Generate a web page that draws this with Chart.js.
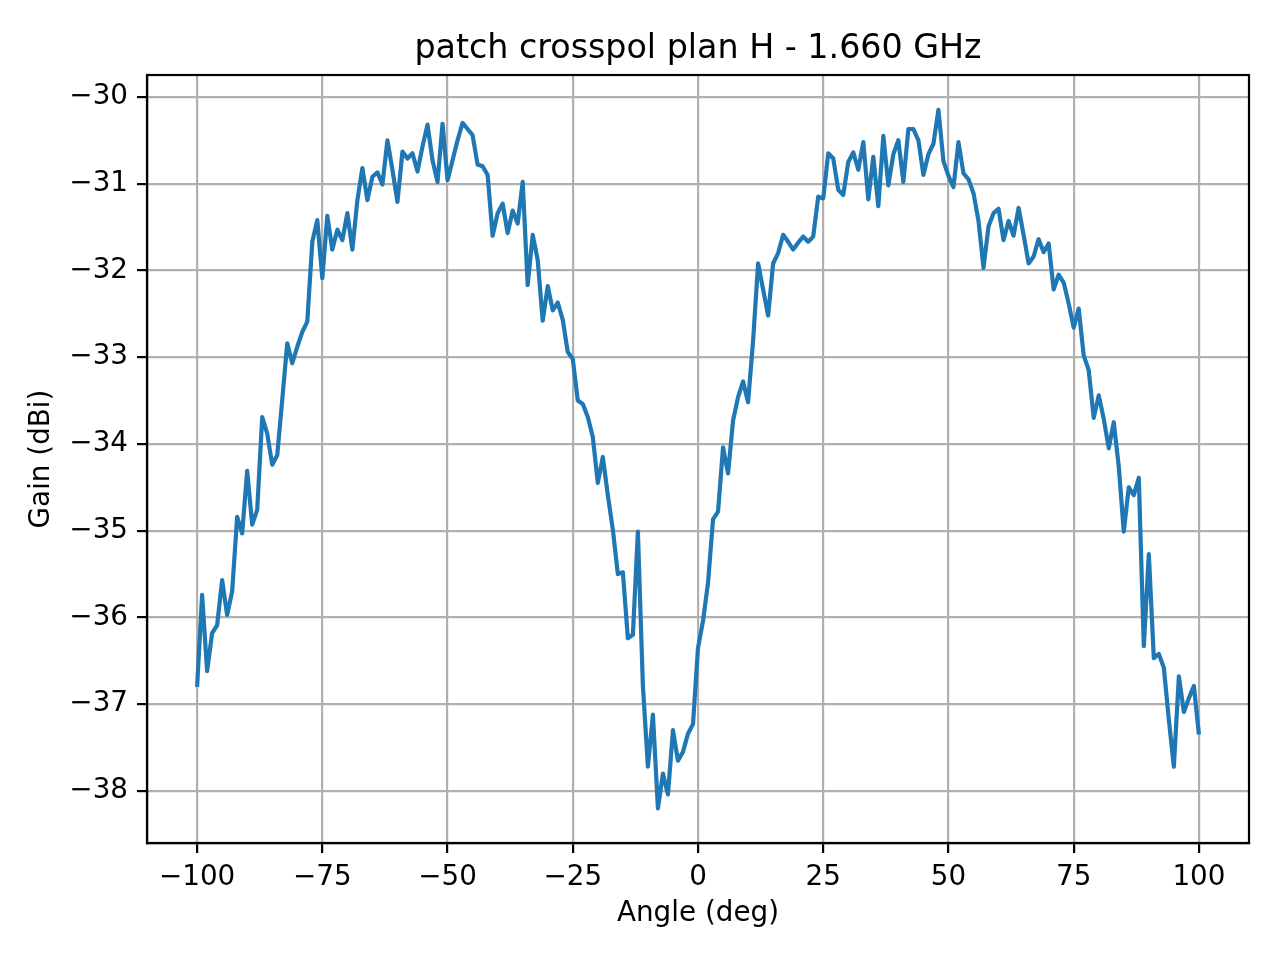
<!DOCTYPE html>
<html>
<head>
<meta charset="utf-8">
<title>patch crosspol plan H - 1.660 GHz</title>
<script src="https://cdn.jsdelivr.net/npm/chart.js@4.4.1/dist/chart.umd.min.js"></script>
<style>
  html, body { margin: 0; padding: 0; background: #fff; }
  #chart { display: block; }
</style>
</head>
<body>
<canvas id="chart" width="1280" height="960"></canvas>
<script>
const chartTitle = "patch crosspol plan H - 1.660 GHz";
const xTitle = "Angle (deg)";
const yTitle = "Gain (dBi)";

const angles = [
  -100, -99, -98, -97, -96, -95, -94, -93, -92, -91, -90, -89, -88, -87, -86, -85, -84, -83, -82, -81,
  -80, -79, -78, -77, -76, -75, -74, -73, -72, -71, -70, -69, -68, -67, -66, -65, -64, -63, -62, -61,
  -60, -59, -58, -57, -56, -55, -54, -53, -52, -51, -50, -49, -48, -47, -46, -45, -44, -43, -42, -41,
  -40, -39, -38, -37, -36, -35, -34, -33, -32, -31, -30, -29, -28, -27, -26, -25, -24, -23, -22, -21,
  -20, -19, -18, -17, -16, -15, -14, -13, -12, -11, -10, -9, -8, -7, -6, -5, -4, -3, -2, -1,
  0, 1, 2, 3, 4, 5, 6, 7, 8, 9, 10, 11, 12, 13, 14, 15, 16, 17, 18, 19,
  20, 21, 22, 23, 24, 25, 26, 27, 28, 29, 30, 31, 32, 33, 34, 35, 36, 37, 38, 39,
  40, 41, 42, 43, 44, 45, 46, 47, 48, 49, 50, 51, 52, 53, 54, 55, 56, 57, 58, 59,
  60, 61, 62, 63, 64, 65, 66, 67, 68, 69, 70, 71, 72, 73, 74, 75, 76, 77, 78, 79,
  80, 81, 82, 83, 84, 85, 86, 87, 88, 89, 90, 91, 92, 93, 94, 95, 96, 97, 98, 99,
  100
];

const gain = [
  -36.80, -35.74, -36.62, -36.18, -36.09, -35.57, -35.97, -35.70, -34.84, -35.03,
  -34.31, -34.93, -34.76, -33.69, -33.88, -34.24, -34.13, -33.49, -32.84, -33.07,
  -32.88, -32.71, -32.59, -31.67, -31.42, -32.09, -31.37, -31.76, -31.53, -31.65,
  -31.34, -31.76, -31.19, -30.82, -31.19, -30.92, -30.87, -31.01, -30.50, -30.84,
  -31.21, -30.63, -30.71, -30.65, -30.86, -30.57, -30.32, -30.73, -30.98, -30.31,
  -30.96, -30.73, -30.50, -30.30, -30.37, -30.44, -30.78, -30.80, -30.90, -31.60,
  -31.34, -31.23, -31.57, -31.31, -31.46, -30.98, -32.17, -31.59, -31.88, -32.58,
  -32.18, -32.46, -32.37, -32.57, -32.94, -33.02, -33.50, -33.54, -33.69, -33.92,
  -34.45, -34.15, -34.59, -34.99, -35.50, -35.48, -36.24, -36.20, -35.01, -36.79,
  -37.72, -37.12, -38.20, -37.80, -38.04, -37.30, -37.65, -37.55, -37.34, -37.23,
  -36.35, -36.04, -35.60, -34.87, -34.78, -34.04, -34.34, -33.73, -33.46, -33.28,
  -33.52, -32.81, -31.92, -32.22, -32.52, -31.92, -31.80, -31.59, -31.67, -31.76,
  -31.68, -31.61, -31.67, -31.61, -31.15, -31.17, -30.65, -30.71, -31.07, -31.13,
  -30.75, -30.64, -30.84, -30.52, -31.18, -30.69, -31.26, -30.45, -31.02, -30.66,
  -30.50, -30.98, -30.37, -30.37, -30.50, -30.90, -30.66, -30.54, -30.15, -30.74,
  -30.91, -31.04, -30.52, -30.88, -30.95, -31.11, -31.43, -31.97, -31.49, -31.34,
  -31.29, -31.65, -31.43, -31.60, -31.28, -31.59, -31.92, -31.84, -31.64, -31.79,
  -31.69, -32.22, -32.05, -32.14, -32.38, -32.66, -32.44, -32.98, -33.15, -33.70,
  -33.44, -33.71, -34.05, -33.75, -34.26, -35.01, -34.50, -34.59, -34.39, -36.33,
  -35.27, -36.47, -36.42, -36.58, -37.18, -37.72, -36.68, -37.09, -36.93, -36.79,
  -37.35
];

const xTicks = [-100, -75, -50, -25, 0, 25, 50, 75, 100];
const yTicks = [-38, -37, -36, -35, -34, -33, -32, -31, -30];

const FONT = "'DejaVu Sans', 'Liberation Sans', sans-serif";
const tickFontSize = 27.8;
const labelFontSize = 27.8;
const titleFontSize = 33.3;

function minusLabel(value) {
  return String(value).replace("-", "\u2212");
}

// full box around the axes plus the title centred over it
const framePlugin = {
  id: "frame",
  afterDraw(chart) {
    const ctx = chart.ctx;
    const area = chart.chartArea;
    ctx.save();
    ctx.strokeStyle = "#000";
    ctx.lineWidth = 2.2;
    ctx.strokeRect(area.left, area.top, area.right - area.left, area.bottom - area.top);
    ctx.fillStyle = "#000";
    ctx.font = titleFontSize + "px " + FONT;
    ctx.textAlign = "center";
    ctx.textBaseline = "alphabetic";
    ctx.fillText(chartTitle, (area.left + area.right) / 2, area.top - 16.7);
    ctx.restore();
  }
};

const chart = new Chart(document.getElementById("chart"), {
  type: "line",
  data: {
    datasets: [
      {
        label: "gain",
        data: angles.map((a, i) => ({ x: a, y: gain[i] })),
        borderColor: "#1f77b4",
        borderWidth: 4.2,
        borderJoinStyle: "round",
        borderCapStyle: "butt",
        pointRadius: 0,
        tension: 0,
        fill: false
      }
    ]
  },
  options: {
    responsive: false,
    animation: false,
    devicePixelRatio: 1,
    layout: {
      padding: { left: 0, right: 31, top: 75, bottom: 0 }
    },
    plugins: {
      legend: { display: false },
      tooltip: { enabled: false },
      title: { display: false }
    },
    scales: {
      x: {
        type: "linear",
        min: -110,
        max: 110,
        afterFit: scale => { scale.height = 117; },
        afterBuildTicks: scale => { scale.ticks = xTicks.map(v => ({ value: v })); },
        ticks: {
          autoSkip: false,
          maxRotation: 0,
          color: "#000",
          padding: 8,
          font: { family: FONT, size: tickFontSize },
          callback: value => minusLabel(value)
        },
        grid: {
          color: "#b0b0b0",
          lineWidth: 2.2,
          drawTicks: true,
          tickLength: 10,
          tickColor: "#000",
          tickWidth: 2.2
        },
        border: { display: true, color: "#000", width: 2.2 },
        title: {
          display: true,
          text: xTitle,
          color: "#000",
          font: { family: FONT, size: labelFontSize },
          padding: { top: 0, bottom: 30 }
        }
      },
      y: {
        type: "linear",
        min: -38.6,
        max: -29.7475,
        afterFit: scale => { scale.width = 147; },
        afterBuildTicks: scale => { scale.ticks = yTicks.map(v => ({ value: v })); },
        ticks: {
          autoSkip: false,
          color: "#000",
          padding: 9,
          font: { family: FONT, size: tickFontSize },
          callback: value => minusLabel(value)
        },
        grid: {
          color: "#b0b0b0",
          lineWidth: 2.2,
          drawTicks: true,
          tickLength: 10,
          tickColor: "#000",
          tickWidth: 2.2
        },
        border: { display: true, color: "#000", width: 2.2 },
        title: {
          display: true,
          text: yTitle,
          color: "#000",
          font: { family: FONT, size: labelFontSize },
          padding: { top: 25, bottom: 0 }
        }
      }
    }
  },
  plugins: [framePlugin]
});
</script>
</body>
</html>
